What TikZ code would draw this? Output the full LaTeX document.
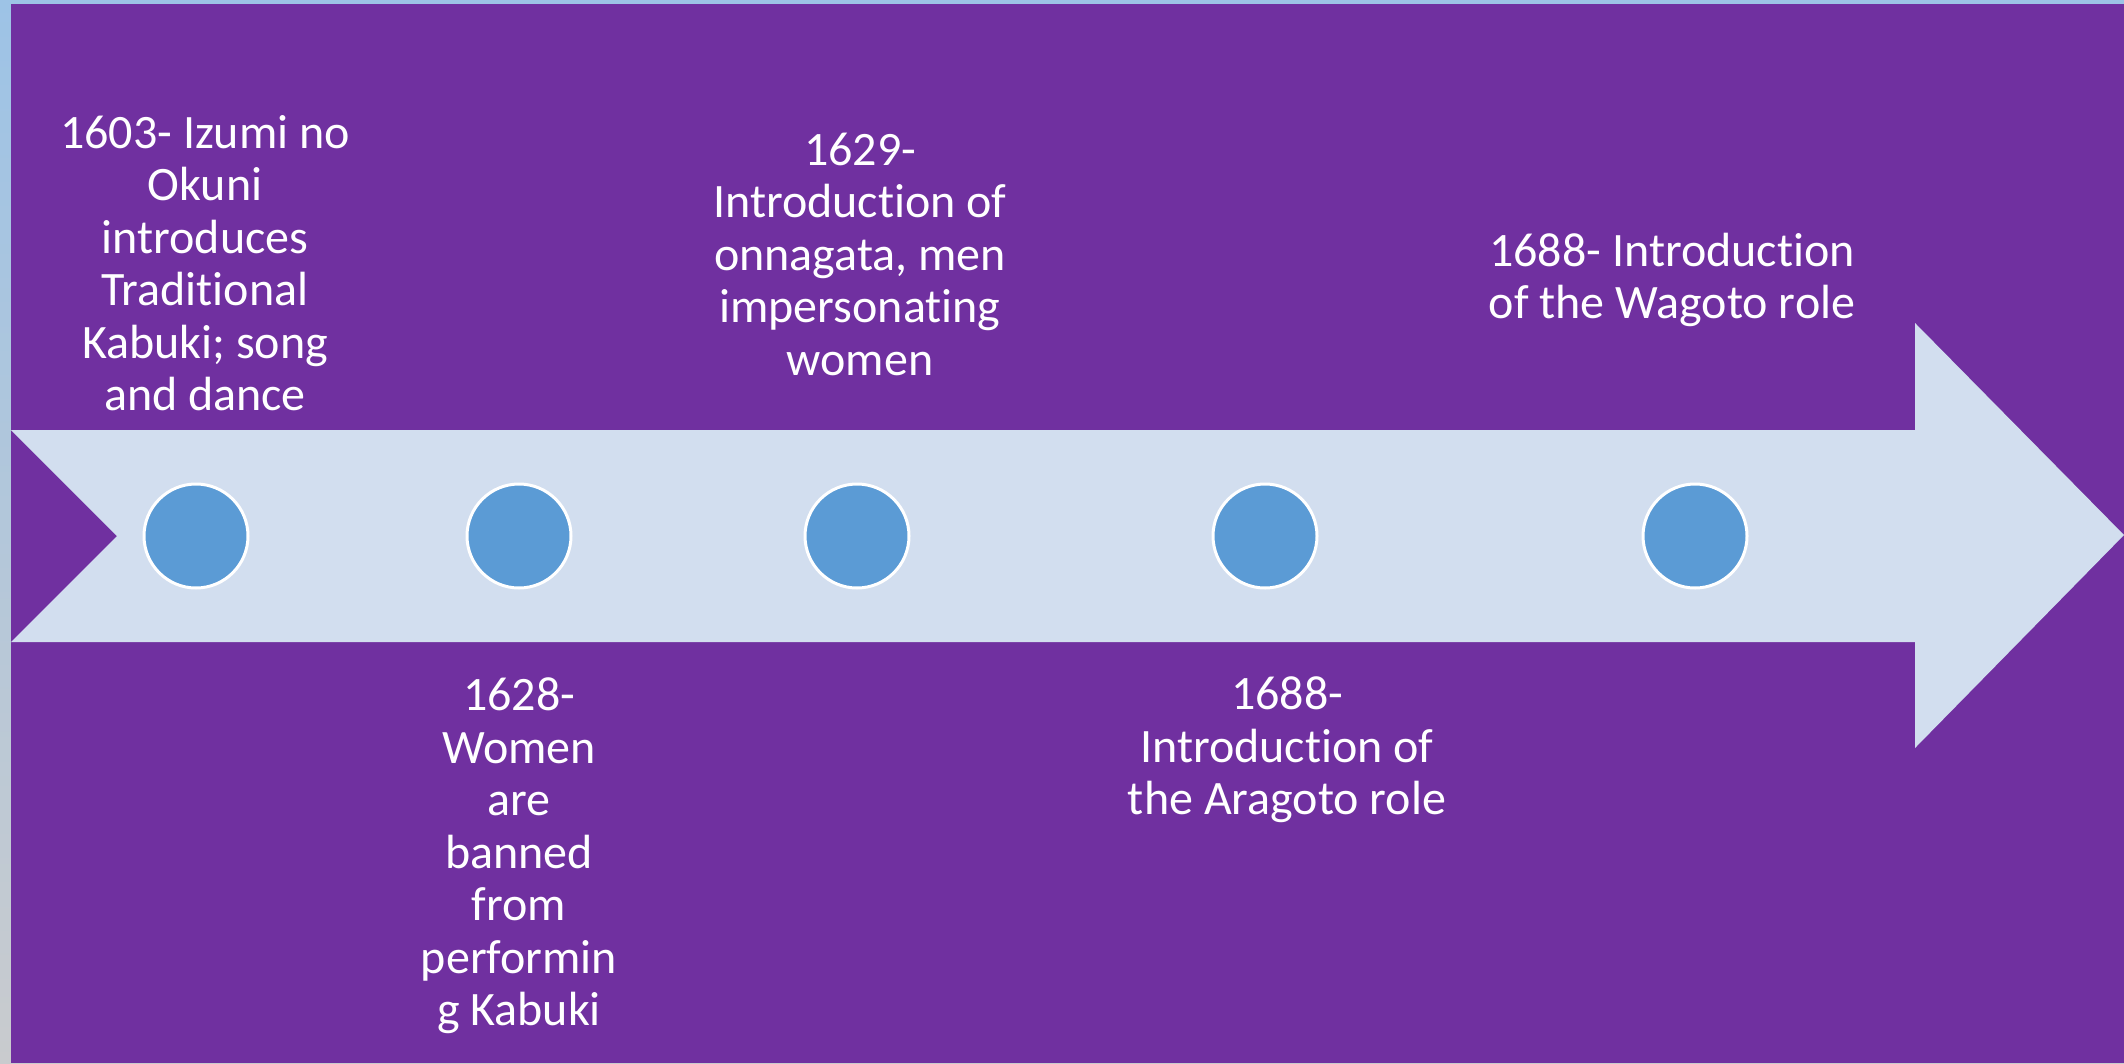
\documentclass[tikz,border=0pt]{standalone}
\usepackage{fontspec}
\setmainfont[Ligatures=NoCommon]{Carlito}
\definecolor{bgpurple}{HTML}{7030A0}
\definecolor{arrowfill}{HTML}{D2DEEF}
\definecolor{dotblue}{HTML}{5B9BD5}
\definecolor{striptop}{HTML}{9DC3E6}
\definecolor{stripbot}{HTML}{C9CBCE}
\begin{document}
\begin{tikzpicture}[x=1pt,y=-1pt,
  dot/.style={circle,fill=dotblue,draw=white,line width=3pt,minimum size=104pt,inner sep=0pt},
  label/.style={text=white,align=center,font=\fontsize{48}{52.5}\selectfont,inner sep=0pt}]
\useasboundingbox (0,0) rectangle (2124,1063);
\shade[top color=striptop,bottom color=stripbot] (0,0) rectangle (2124,1063);
\fill[bgpurple] (11,4) rectangle (2124,1063);
\fill[arrowfill] (11,430) -- (1915,430) -- (1915,323) -- (2124,535) -- (1915,748) -- (1915,642) -- (11,642) -- (117,536) -- cycle;
\node[dot] (c1) at (196,536) {};
\node[dot] (c2) at (519,536) {};
\node[dot] (c3) at (857,536) {};
\node[dot] (c4) at (1265,536) {};
\node[dot] (c5) at (1695,536) {};
\node[label] (t1) at (205,263) {1603- Izumi no\\Okuni\\introduces\\Traditional\\Kabuki; song\\and dance};
\node[label] (t2) at (519,856) {1628-\\Women\\are\\banned\\from\\performin\\g Kabuki};
\node[label] (t3) at (860,254) {1629-\\Introduction of\\onnagata, men\\impersonating\\women};
\node[label] (t4) at (1287,750) {1688-\\Introduction of\\the Aragoto role};
\node[label] (t5) at (1672,280) {1688- Introduction\\of the Wagoto role};
\end{tikzpicture}
\end{document}
